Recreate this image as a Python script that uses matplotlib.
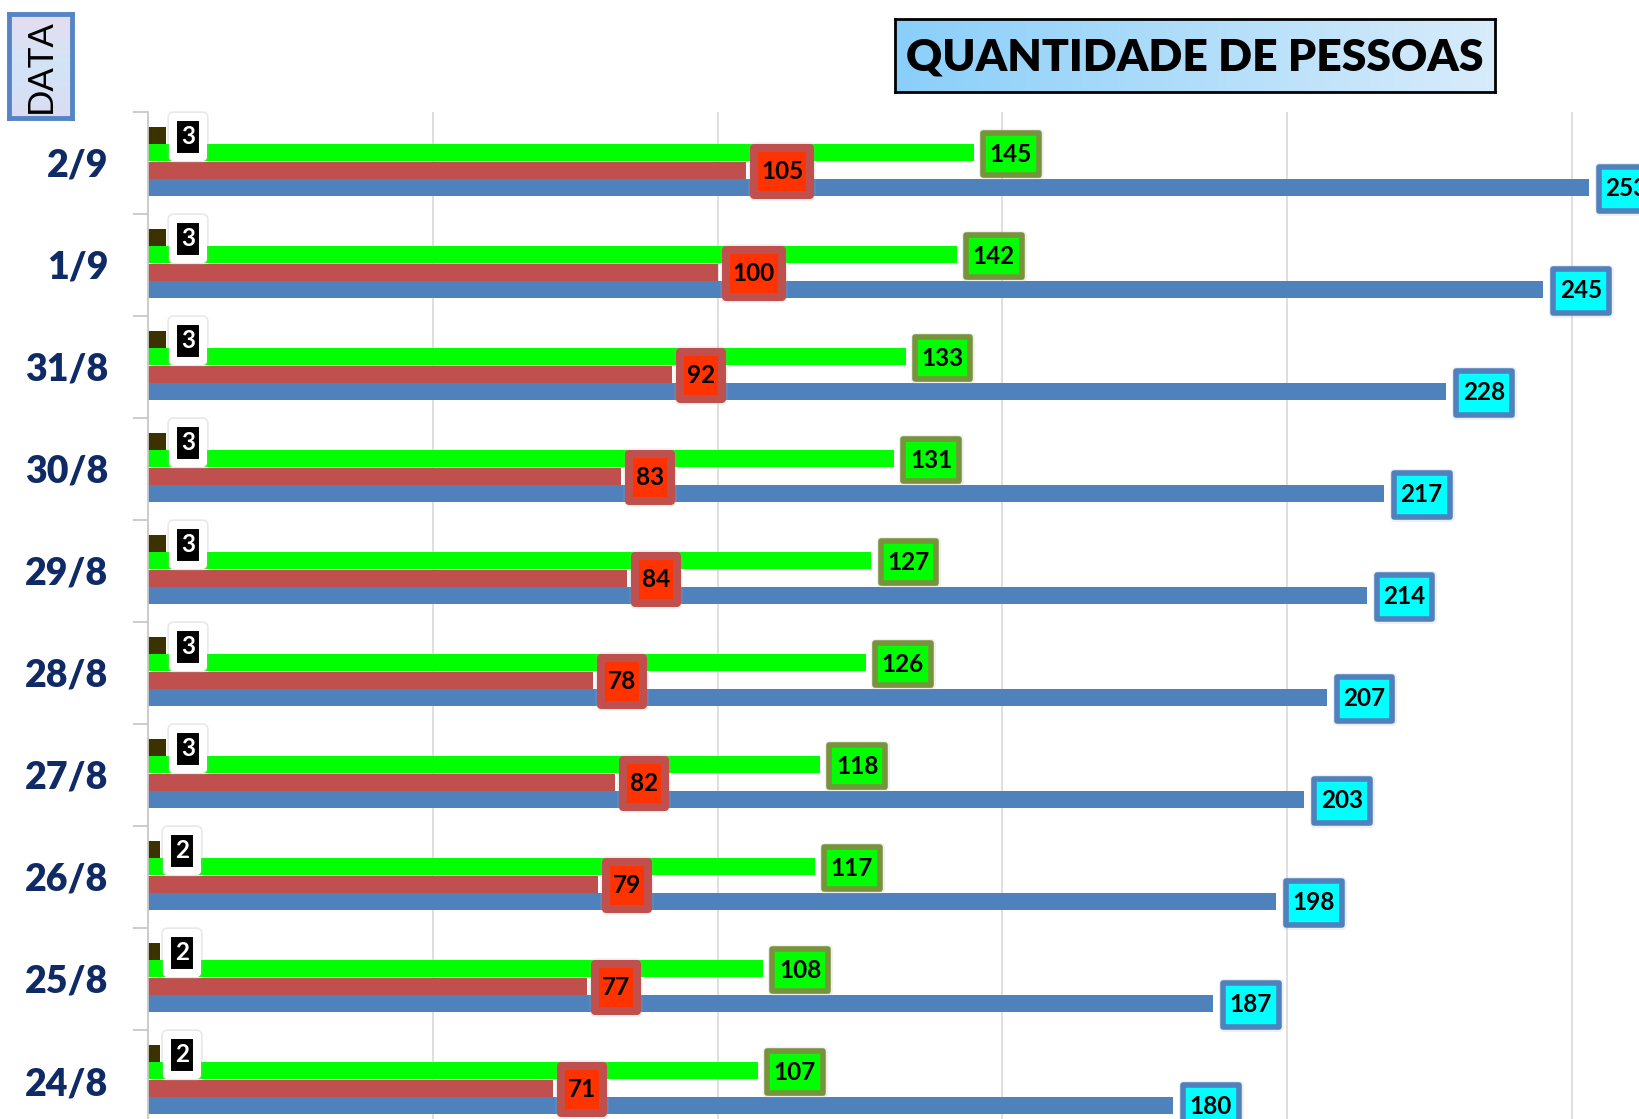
import numpy as np
import matplotlib.pyplot as plt
import matplotlib.patheffects as pe
from matplotlib.path import Path
from matplotlib.colors import LinearSegmentedColormap

plt.rcParams['font.family'] = ['Lato', 'DejaVu Sans']

# dados (de cima para baixo)
datas = ['2/9', '1/9', '31/8', '30/8', '29/8', '28/8', '27/8', '26/8', '25/8', '24/8']
serie_preta = [3, 3, 3, 3, 3, 3, 3, 2, 2, 2]
serie_verde = [145, 142, 133, 131, 127, 126, 118, 117, 108, 107]
serie_vermelha = [105, 100, 92, 83, 84, 78, 82, 79, 77, 71]
serie_azul = [253, 245, 228, 217, 214, 207, 203, 198, 187, 180]
grade_x = [0, 50, 100, 150, 200, 250]


def caixa(pad_x, pad_y):
    # caixa retangular com folga horizontal e vertical diferentes
    def estilo(x0, y0, width, height, mutation_size):
        px, py = pad_x * mutation_size, pad_y * mutation_size
        x0, y0 = x0 - px, y0 - py
        x1, y1 = x0 + width + 2 * px, y0 + height + 2 * py
        return Path([(x0, y0), (x1, y0), (x1, y1), (x0, y1), (x0, y0)], closed=True)
    return estilo


W, H = 1640, 1119
fig = plt.figure(figsize=(W / 100, H / 100), dpi=100)

# eixo principal: cada grupo ocupa 102 px, o ultimo fica cortado em baixo
top_px, group_px, left_px = 112, 102, 148.5
ax = fig.add_axes([left_px / W, 1 - (top_px + 10 * group_px) / H,
                   1 - left_px / W, 10 * group_px / H])

y = np.arange(len(datas))
bar_h = 0.167

# (valores, cor da barra, deslocamento, fundo do rotulo, borda, cor do texto, offset pt, lw, pad_x, pad_y, sombra)
series = [
    (serie_preta, '#3B3200', 0.23, 'black', 'white', 'white', 11.0, 5.8, 0.33, 0.34, 0.45),
    (serie_verde, '#00FF00', 0.40, '#00FF00', '#77933C', 'black', 11.4, 4.0, 0.28, 0.38, 0.3),
    (serie_vermelha, '#C0504D', 0.57, '#FF3300', '#C0504D', 'black', 10.8, 5.8, 0.28, 0.50, 0.3),
    (serie_azul, '#4F81BD', 0.74, '#00FFFF', '#4F81BD', 'black', 12.0, 4.0, 0.28, 0.42, 0.3),
]

for vals, cor, off, fc, ec, tc, dx, lw, pxx, pyy, sa in series:
    ax.barh(y + off, vals, height=bar_h, color=cor, zorder=2)

for vals, cor, off, fc, ec, tc, dx, lw, pxx, pyy, sa in series:
    for yi, v in zip(y, vals):
        t = ax.annotate(str(v), xy=(v, yi + off), xytext=(dx, -1.0),
                        textcoords='offset points', ha='left', va='center',
                        fontsize=17.5, fontweight='bold', color=tc,
                        annotation_clip=False, zorder=5,
                        bbox=dict(boxstyle=caixa(pxx, pyy), fc=fc, ec=ec,
                                  lw=lw, joinstyle='round'))
        t.get_bbox_patch().set_path_effects(
            [pe.Stroke(linewidth=lw + 2.5, foreground='#B0B0B0', alpha=sa * 0.6),
             pe.SimplePatchShadow(offset=(1.5, -2), shadow_rgbFace='#888888', alpha=sa),
             pe.Normal()])

ax.set_xlim(0, 262)
ax.set_ylim(10, 0)
ax.set_xticks(grade_x)
ax.tick_params(axis='x', length=0, labelbottom=False)
ax.grid(axis='x', color='#D9D9D9', lw=1.2)
ax.set_axisbelow(True)

ax.set_yticks(y + 0.5)
ax.set_yticklabels(datas, fontsize=27, fontweight='heavy', color='#0F2A64')
ax.set_yticks(np.arange(0, 11), minor=True)
ax.tick_params(axis='y', which='major', length=0, pad=29)
ax.tick_params(axis='y', which='minor', length=11, width=1.3, color='#C8C8C8')

for s in ['top', 'right', 'bottom']:
    ax.spines[s].set_visible(False)
ax.spines['left'].set_color('#C8C8C8')
ax.spines['left'].set_linewidth(1.3)

# caixa do titulo com degrade
tax = fig.add_axes([895 / W, 1 - 92 / H, 600 / W, 73 / H])
grad = np.linspace(0, 1, 256).reshape(1, -1)
tax.imshow(grad, aspect='auto', extent=[0, 1, 0, 1],
           cmap=LinearSegmentedColormap.from_list('tit', ['#8ACFF9', '#D8ECFB']))
tax.set_xticks([])
tax.set_yticks([])
for s in tax.spines.values():
    s.set_linewidth(2)
    s.set_color('black')
tax.text(0.5, 0.47, 'QUANTIDADE DE PESSOAS', ha='center', va='center',
         fontsize=32, fontweight='heavy', transform=tax.transAxes)

# caixa "DATA"
dax = fig.add_axes([9 / W, 1 - 118 / H, 63 / W, 104 / H])
dax.imshow(np.linspace(0, 1, 256).reshape(-1, 1), aspect='auto', extent=[0, 1, 0, 1],
           cmap=LinearSegmentedColormap.from_list('dat', ['#E6DDF0', '#D2E4F6', '#DCDCF2']))
dax.set_xticks([])
dax.set_yticks([])
for s in dax.spines.values():
    s.set_linewidth(3.5)
    s.set_color('#5585C5')
dax.text(0.5, 0.5, 'DATA', rotation=90, ha='center', va='center',
         fontsize=25, transform=dax.transAxes)

fig.savefig('out.png', dpi=100)
